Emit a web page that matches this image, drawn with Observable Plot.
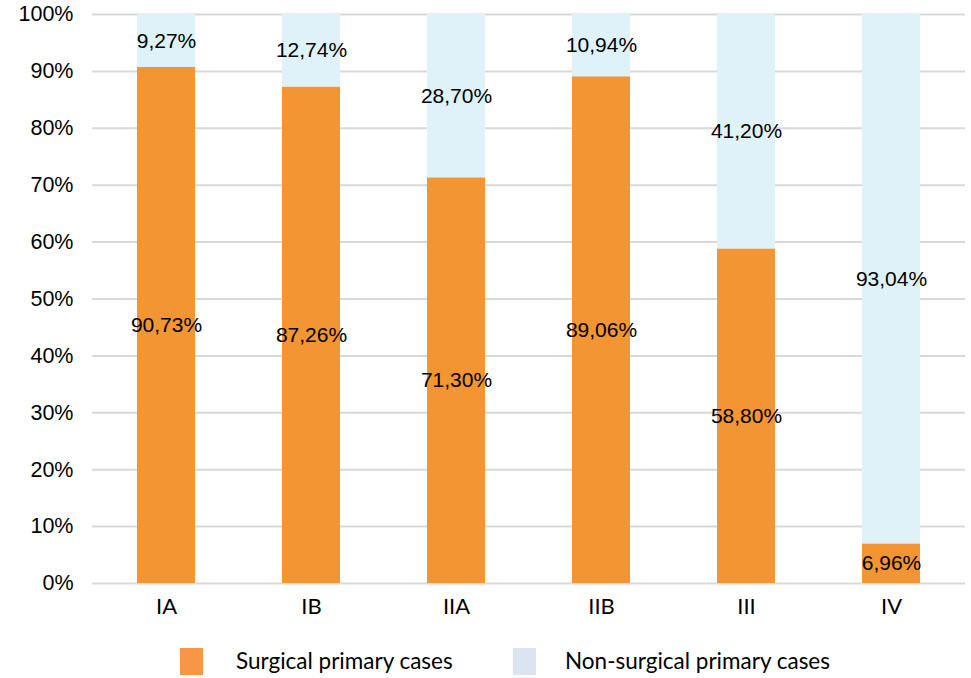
<!DOCTYPE html>
<html><head><meta charset="utf-8">
<script src="https://cdn.jsdelivr.net/npm/d3@7"></script>
<script src="https://cdn.jsdelivr.net/npm/@observablehq/plot@0.6"></script>
<style>
body{margin:0;background:#fff;}
#legend{position:relative;height:48px;width:971px;font-family:Lato,"Open Sans",sans-serif;font-size:22.5px;color:#000;}
.sw{position:absolute;top:18px;width:23px;height:27px;}
.lt{position:absolute;top:17px;line-height:27px;white-space:nowrap;}
</style></head><body>
<div id="chart"></div>
<div id="legend"></div>
<script>
const stages = ["IA","IB","IIA","IIB","III","IV"];
const surgical = [90.73,87.26,71.30,89.06,58.80,6.96];
const nonSurgical = [9.27,12.74,28.70,10.94,41.20,93.04];
const seriesNames = ["Surgical primary cases","Non-surgical primary cases"];
const yTicks = [0,10,20,30,40,50,60,70,80,90,100];
const barColors = ["#F39532","#DFF2FA"];
const legendColors = ["#F79646","#DBE5F1"];

const rows = [];
stages.forEach((s,i)=>{
  rows.push({stage:s, series:seriesNames[0], value:surgical[i]});
  rows.push({stage:s, series:seriesNames[1], value:nonSurgical[i]});
});
const fmt = v => v.toFixed(2).replace(".",",") + "%";

const chart = Plot.plot({
  width: 971,
  height: 630,
  marginTop: 14,
  marginBottom: 47,
  marginLeft: 92,
  marginRight: 6,
  style: {background:"#fff"},
  x: {domain: stages, paddingInner: 0.6, paddingOuter: 0.3, label: null},
  y: {domain: [0,100], label: null},
  color: {domain: seriesNames, range: barColors},
  marks: [
    Plot.gridY(yTicks, {stroke:"#d9d9d9", strokeOpacity:1, strokeWidth:2}),
    Plot.barY(rows, {x:"stage", y:"value", fill:"series", order: seriesNames}),
    Plot.text(rows, Plot.stackY({x:"stage", y:"value", z:"series", order: seriesNames, text: d=>fmt(d.value), fontSize:21, fontFamily:"Liberation Sans, Arial, sans-serif", fill:"#000"})),
    Plot.axisY({ticks: yTicks, tickFormat: d=>d+"%", tickSize:0, tickPadding:19, fontSize:21.5, fontFamily:"Liberation Sans, Arial, sans-serif", fill:"#000", label:null}),
    Plot.axisX({tickSize:0, tickPadding:15, fontSize:22, fontFamily:"Lato, sans-serif", fill:"#000", label:null})
  ]
});
document.getElementById("chart").appendChild(chart);

const legend = document.getElementById("legend");
const pos = [[180,236],[513,565]];
seriesNames.forEach((n,i)=>{
  const sw = document.createElement("div");
  sw.className="sw"; sw.style.left=pos[i][0]+"px"; sw.style.background=legendColors[i];
  legend.appendChild(sw);
  const t = document.createElement("div");
  t.className="lt"; t.style.left=pos[i][1]+"px"; t.textContent=n;
  legend.appendChild(t);
});
</script>
</body></html>
